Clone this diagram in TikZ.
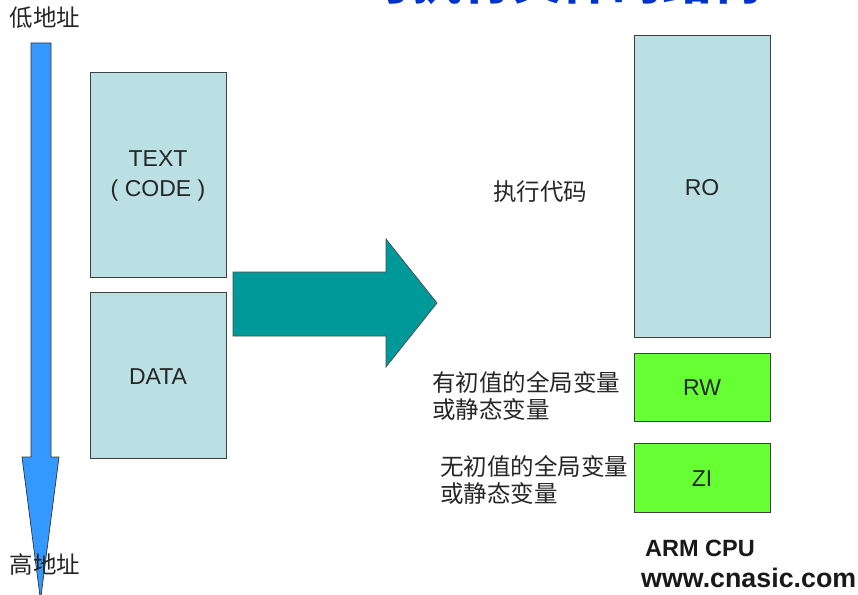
\documentclass[tikz,border=0pt]{standalone}
\usepackage{fontspec}
\setmainfont{Liberation Sans}
\newfontfamily\cjk{Noto Sans CJK SC}
\begin{document}
\begin{tikzpicture}[x=1pt,y=-1pt,
  seg/.style={draw=black!75,line width=0.8pt,fill=#1},
  lbl/.style={font=\fontsize{23}{30}\selectfont,text=black!85},
  cn/.style={font=\cjk\fontsize{23.5}{27}\selectfont,text=black!85,align=left},
  bold/.style={font=\bfseries\fontsize{23.5}{26}\selectfont,text=black!90}]
\definecolor{paleblue}{HTML}{BBE0E3}
\definecolor{brightgreen}{HTML}{66FF33}
\definecolor{teal}{HTML}{009999}
\definecolor{sky}{HTML}{3399FF}
\definecolor{titleblue}{HTML}{0033CC}
\useasboundingbox (0,0) rectangle (858,594);
\fill[white] (0,0) rectangle (858,594);

% heading, running off the top edge
\node[anchor=base west,inner sep=0pt,font=\cjk\bfseries\fontsize{50}{50}\selectfont,text=titleblue] (title) at (362,0) {可执行文件的结构};

% address direction arrow
\draw[draw=black!80,line width=0.7pt,fill=sky] (31,43) -- (51,43) -- (51,457) -- (59,457) -- (40.5,600) -- (22,457) -- (31,457) -- cycle;
\node[cn] (low) at (45,18) {低地址};
\node[cn] (high) at (45,565) {高地址};

% sections of the object file
\node[seg=paleblue,minimum width=136pt,minimum height=205pt,inner sep=0pt] (text) at (158,174.5) {};
\node[lbl,align=center] (textlbl) at (158,176) {TEXT\\( CODE )};
\node[seg=paleblue,minimum width=136pt,minimum height=166pt,inner sep=0pt] (data) at (158,375) {};
\node[lbl] (datalbl) at (158,377) {DATA};

% conversion arrow
\draw[draw=black!70,line width=0.7pt,fill=teal] (233,272) -- (386,272) -- (386,239) -- (437,303) -- (386,367) -- (386,336) -- (233,336) -- cycle;

% regions of the image
\node[seg=paleblue,minimum width=136pt,minimum height=302pt,inner sep=0pt] (ro) at (702,186) {};
\node[lbl] (rolbl) at (702,188) {RO};
\node[seg=brightgreen,minimum width=136pt,minimum height=68pt,inner sep=0pt] (rw) at (702,387) {};
\node[lbl] (rwlbl) at (702,388) {RW};
\node[seg=brightgreen,minimum width=136pt,minimum height=69pt,inner sep=0pt] (zi) at (702,477.5) {};
\node[lbl] (zilbl) at (702,479) {ZI};

\node[cn] (code) at (540,192) {执行代码};
\node[cn,anchor=west,inner sep=0pt] (init) at (432,396) {有初值的全局变量\\或静态变量};
\node[cn,anchor=west,inner sep=0pt] (noinit) at (440,480) {无初值的全局变量\\或静态变量};

\node[bold,anchor=base west,inner sep=0pt] (cpu) at (645,556) {ARM CPU};
\node[bold,font=\bfseries\fontsize{26.8}{28}\selectfont,anchor=base west,inner sep=0pt] (site) at (641,587) {www.cnasic.com};
\end{tikzpicture}
\end{document}
